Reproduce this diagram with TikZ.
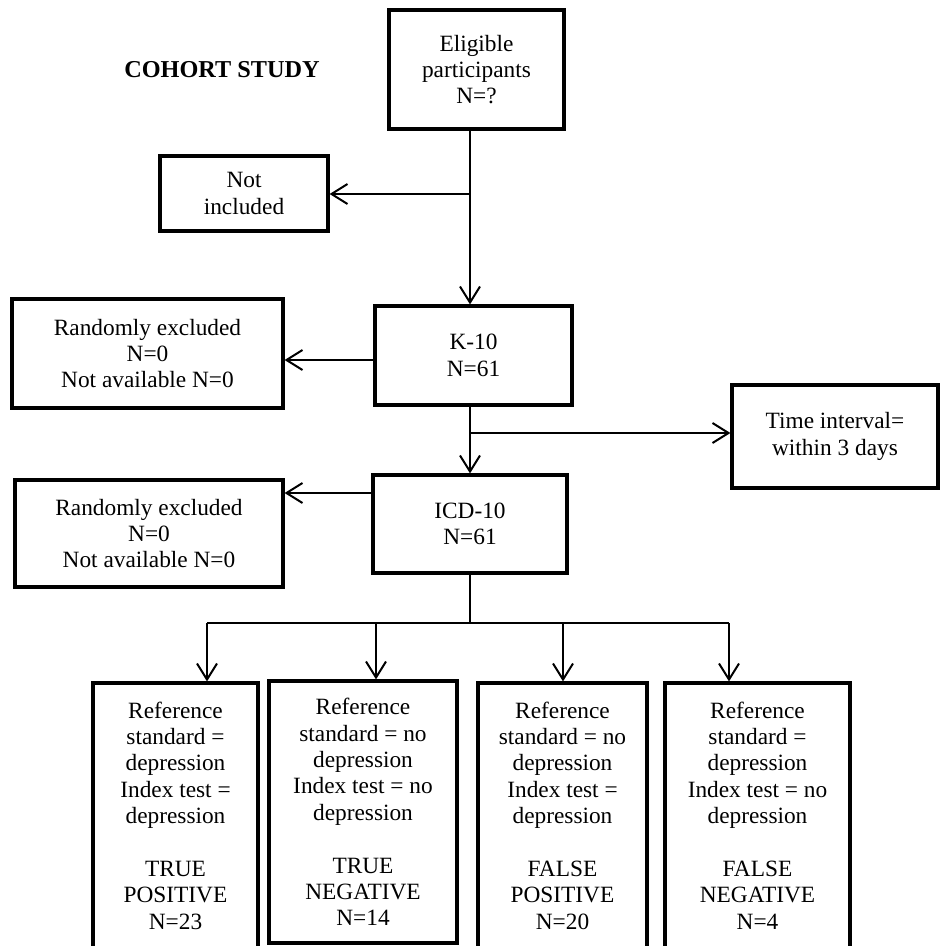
\documentclass[tikz,border=0pt]{standalone}
\usepackage{fontspec}
\setmainfont{Liberation Serif}
\usetikzlibrary{arrows.meta}
\tikzset{
  box/.style={draw, line width=2.4pt, align=center, inner sep=0pt, anchor=center,
    font=\fontsize{17.5}{19.8}\selectfont},
  conn/.style={line width=1.5pt, -{Straight Barb[length=12pt,width=15pt,line width=1.5pt]}},
  plain/.style={line width=1.5pt},
  title/.style={font=\fontsize{18.2}{20}\selectfont\bfseries}
}
\begin{document}
\begin{tikzpicture}[x=0.75pt,y=-0.75pt]
\useasboundingbox (0,0) rectangle (948,945);
\clip (0,0) rectangle (948,945);
\node[title] (title) at (222,70) {COHORT STUDY};
\node[box, minimum width=131.25pt, minimum height=89.25pt] (elig) at (476.5,69.5) {Eligible\\participants\\N=?};
\node[box, minimum width=126pt, minimum height=56.25pt] (notinc) at (244,193.5) {Not\\included};
\node[box, minimum width=147.75pt, minimum height=74.25pt] (k10) at (473.5,355.5) {K-10\\N=61};
\node[box, minimum width=203.25pt, minimum height=81.75pt] (rex1) at (147.5,353.5) {Randomly excluded\\N=0\\Not available N=0};
\node[box, minimum width=154.5pt, minimum height=77.25pt] (time) at (835,436.5) {Time interval=\\within 3 days};
\node[box, minimum width=145.5pt, minimum height=73.5pt] (icd) at (470,524) {ICD-10\\N=61};
\node[box, minimum width=201pt, minimum height=80.25pt] (rex2) at (149,533.5) {Randomly excluded\\N=0\\Not available N=0};
\node[box, minimum width=123.75pt, minimum height=198.75pt] (b1) at (175.5,815.5) {Reference\\standard =\\depression\\Index test =\\depression\\~\\TRUE\\POSITIVE\\N=23};
\node[box, minimum width=141pt, minimum height=196.5pt] (b2) at (363,812) {Reference\\standard = no\\depression\\Index test = no\\depression\\~\\TRUE\\NEGATIVE\\N=14};
\node[box, minimum width=126.75pt, minimum height=198.75pt] (b3) at (562.5,815.5) {Reference\\standard = no\\depression\\Index test =\\depression\\~\\FALSE\\POSITIVE\\N=20};
\node[box, minimum width=138.75pt, minimum height=198.75pt] (b4) at (757.5,815.5) {Reference\\standard =\\depression\\Index test = no\\depression\\~\\FALSE\\NEGATIVE\\N=4};
% spine
\coordinate (s0) at (470,129);
\coordinate (j1) at (470,194);
\coordinate (s1) at (470,405);
\coordinate (j2) at (470,433);
\coordinate (j3) at (373,493);
\coordinate (s2) at (470,573);
\coordinate (j4) at (470,623);
\coordinate (a1) at (207,623);
\coordinate (a2) at (376,623);
\coordinate (a3) at (563,623);
\coordinate (a4) at (729,623);
\draw[conn] (elig.south -| s0) -- (k10.north -| s0);
\draw[conn] (j1) -- (notinc.east |- j1);
\draw[conn] (k10.west |- 0,360) -- (rex1.east |- 0,360);
\draw[conn] (k10.south -| s1) -- (icd.north -| s1);
\draw[conn] (j2) -- (time.west |- j2);
\draw[conn] (j3) -- (rex2.east |- j3);
\draw[plain] (icd.south -| s2) -- (j4);
\draw[plain] (a1) -- (a4);
\draw[conn] (a1) -- (a1 |- b1.north);
\draw[conn] (a2) -- (a2 |- b2.north);
\draw[conn] (a3) -- (a3 |- b3.north);
\draw[conn] (a4) -- (a4 |- b4.north);
\end{tikzpicture}
\end{document}
